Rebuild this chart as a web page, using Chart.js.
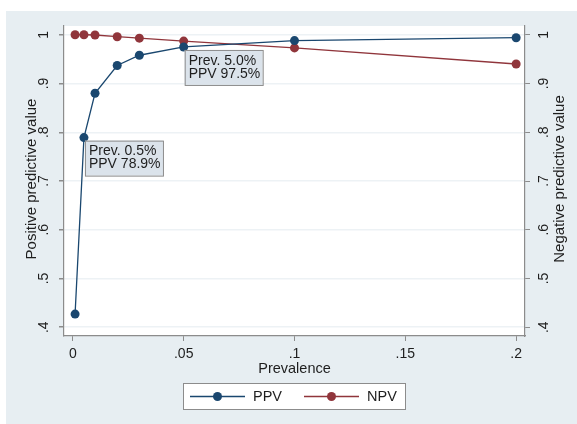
<!DOCTYPE html>
<html>
<head>
<meta charset="utf-8">
<script src="https://cdn.jsdelivr.net/npm/chart.js@4.4.1/dist/chart.umd.min.js"></script>
<style>
  html, body { margin: 0; padding: 0; background: #ffffff; }
  #wrap { width: 577px; height: 424px; }
</style>
</head>
<body>
<div id="wrap"><canvas id="chart" width="577" height="424"></canvas></div>
<script>
// Values
const prevalence = [0.001, 0.005, 0.01, 0.02, 0.03, 0.05, 0.1, 0.2];
const ppvValues = [0.427, 0.789, 0.880, 0.937, 0.958, 0.975, 0.988, 0.994];
const npvValues = [1.000, 1.000, 0.9995, 0.996, 0.993, 0.987, 0.973, 0.940];
const xTicks = [0, 0.05, 0.1, 0.15, 0.2];
const yTicks = [0.4, 0.5, 0.6, 0.7, 0.8, 0.9, 1];
const notes = [
    { x: 0.005, y: 0.789, lines: ['Prev. 0.5%', 'PPV 78.9%'] },
    { x: 0.05, y: 0.975, lines: ['Prev. 5.0%', 'PPV 97.5%'] }
];

const navy = '#1a476f';
const maroon = '#90353b';
const bgBlue = '#e7eef2';
const family = '"Liberation Sans", Arial, sans-serif';

function fmt(v) {
    if (v === 0) return '0';
    return String(+v.toFixed(2)).replace(/^0\./, '.');
}

function toPoints(ys) {
    return prevalence.map((p, i) => ({ x: p, y: ys[i] }));
}

const stataLook = {
    id: 'stataLook',
    beforeDraw(chart) {
        const ctx = chart.ctx;
        const a = chart.chartArea;
        ctx.save();
        ctx.fillStyle = '#ffffff';
        ctx.fillRect(0, 0, chart.width, chart.height);
        ctx.fillStyle = bgBlue;
        ctx.fillRect(6, 11, chart.width - 6, chart.height - 11);
        ctx.fillStyle = '#ffffff';
        ctx.fillRect(a.left, a.top, a.right - a.left, a.bottom - a.top);
        ctx.restore();
    },
    afterDraw(chart) {
        const ctx = chart.ctx;
        const a = chart.chartArea;
        const sx = chart.scales.x, sy = chart.scales.y, sy2 = chart.scales.y2;
        ctx.save();
        ctx.fillStyle = '#1e1e1e';
        ctx.font = '14px ' + family;

        // x tick labels and title
        ctx.textAlign = 'center';
        ctx.textBaseline = 'middle';
        xTicks.forEach(v => ctx.fillText(fmt(v), sx.getPixelForValue(v), 354));
        ctx.font = '14.5px ' + family;
        ctx.fillText('Prevalence', (a.left + a.right) / 2, 369);

        // rotated y tick labels
        ctx.font = '14px ' + family;
        yTicks.forEach(v => {
            [[sy, 44], [sy2, 544]].forEach(([s, px]) => {
                ctx.save();
                ctx.translate(px, s.getPixelForValue(v));
                ctx.rotate(-Math.PI / 2);
                ctx.fillText(fmt(v), 0, 0);
                ctx.restore();
            });
        });

        // axis titles
        ctx.font = '15px ' + family;
        const midY = 179;
        [['Positive predictive value', 32], ['Negative predictive value', 560]].forEach(([t, px]) => {
            ctx.save();
            ctx.translate(px, midY);
            ctx.rotate(-Math.PI / 2);
            ctx.fillText(t, 0, 0);
            ctx.restore();
        });

        // annotation boxes
        ctx.font = '14px ' + family;
        ctx.textAlign = 'left';
        notes.forEach(n => {
            const bx = sx.getPixelForValue(n.x) + 1;
            const by = sy.getPixelForValue(n.y) + 3;
            ctx.fillStyle = '#dbe3eb';
            ctx.strokeStyle = '#8c8c8c';
            ctx.lineWidth = 1;
            ctx.fillRect(bx, by, 78, 35);
            ctx.strokeRect(bx + 0.5, by + 0.5, 78, 35);
            ctx.fillStyle = '#1e1e1e';
            ctx.fillText(n.lines[0], bx + 4, by + 11);
            ctx.fillText(n.lines[1], bx + 4, by + 24);
        });

        // legend
        ctx.fillStyle = '#ffffff';
        ctx.fillRect(183, 383, 222, 26);
        ctx.strokeStyle = '#8c8c8c';
        ctx.strokeRect(183.5, 383.5, 222, 26);
        ctx.font = '14.5px ' + family;
        [[navy, 'PPV', 190], [maroon, 'NPV', 304]].forEach(([c, t, lx]) => {
            ctx.strokeStyle = c;
            ctx.lineWidth = 1.3;
            ctx.beginPath();
            ctx.moveTo(lx, 396.5);
            ctx.lineTo(lx + 55, 396.5);
            ctx.stroke();
            ctx.fillStyle = c;
            ctx.beginPath();
            ctx.arc(lx + 27.5, 396.5, 4.5, 0, Math.PI * 2);
            ctx.fill();
            ctx.fillStyle = '#1e1e1e';
            ctx.fillText(t, lx + 63, 397);
        });
        ctx.restore();
    }
};

const ctx = document.getElementById('chart').getContext('2d');
new Chart(ctx, {
    type: 'scatter',
    data: {
        datasets: [
            {
                label: 'PPV',
                data: toPoints(ppvValues),
                yAxisID: 'y',
                showLine: true,
                borderColor: navy,
                backgroundColor: navy,
                borderWidth: 1.3,
                pointRadius: 4.5,
                pointBorderWidth: 0,
                order: 1
            },
            {
                label: 'NPV',
                data: toPoints(npvValues),
                yAxisID: 'y2',
                showLine: true,
                borderColor: maroon,
                backgroundColor: maroon,
                borderWidth: 1.3,
                pointRadius: 4.5,
                pointBorderWidth: 0,
                order: 2
            }
        ]
    },
    options: {
        responsive: false,
        animation: false,
        layout: { padding: { top: 26, left: 0, right: 0, bottom: 0 } },
        plugins: { legend: { display: false }, tooltip: { enabled: false } },
        scales: {
            x: {
                type: 'linear',
                min: -0.004,
                max: 0.204,
                afterBuildTicks: s => { s.ticks = xTicks.map(v => ({ value: v })); },
                afterFit: s => { s.height = 88; },
                ticks: { display: false },
                grid: { drawOnChartArea: false, drawTicks: true, tickLength: 5, tickColor: '#8c8c8c' },
                border: { display: true, color: '#8c8c8c', width: 1.2 }
            },
            y: {
                position: 'left',
                min: 0.382,
                max: 1.018,
                afterBuildTicks: s => { s.ticks = yTicks.map(v => ({ value: v })); },
                afterFit: s => { s.width = 64; },
                ticks: { display: false },
                grid: { color: '#edf2f5', lineWidth: 1.5, drawTicks: true, tickLength: 5, tickColor: '#8c8c8c' },
                border: { display: true, color: '#8c8c8c', width: 1.2 }
            },
            y2: {
                position: 'right',
                min: 0.382,
                max: 1.018,
                afterBuildTicks: s => { s.ticks = yTicks.map(v => ({ value: v })); },
                afterFit: s => { s.width = 52; },
                ticks: { display: false },
                grid: { drawOnChartArea: false, drawTicks: true, tickLength: 5, tickColor: '#8c8c8c' },
                border: { display: true, color: '#8c8c8c', width: 1.2 }
            }
        }
    },
    plugins: [stataLook]
});
</script>
</body>
</html>
